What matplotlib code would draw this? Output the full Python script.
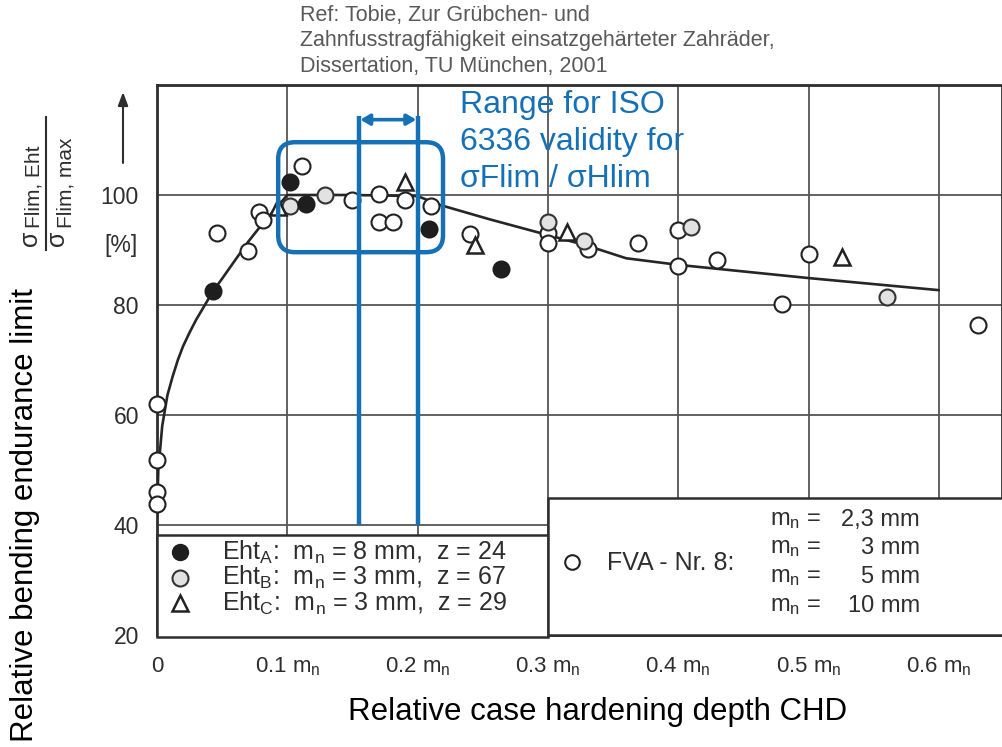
import matplotlib
matplotlib.use('Agg')
import matplotlib.pyplot as plt
from matplotlib.patches import Rectangle, FancyBboxPatch
from matplotlib.lines import Line2D

plt.rcParams['font.family'] = ['Liberation Sans', 'DejaVu Sans']
plt.rcParams['mathtext.fontset'] = 'custom'
plt.rcParams['mathtext.rm'] = 'Liberation Sans'
plt.rcParams['mathtext.it'] = 'Liberation Sans:italic'
plt.rcParams['mathtext.bf'] = 'Liberation Sans:bold'

# ---------------- data ----------------
# Eht_A : filled black circles
eht_a_x = [0.043, 0.102, 0.114, 0.209, 0.264]
eht_a_y = [82.6, 102.3, 98.4, 93.8, 86.5]
# Eht_B : grey filled circles
eht_b_x = [0.102, 0.129, 0.300, 0.328, 0.410, 0.560]
eht_b_y = [98.0, 100.0, 95.1, 91.6, 94.2, 81.5]
# Eht_C : triangles
eht_c_x = [0.093, 0.190, 0.244, 0.315, 0.526]
eht_c_y = [97.8, 102.4, 90.9, 93.3, 88.7]
# FVA-Nr. 8 : open circles
fva_x = [0.0, 0.0, 0.0, 0.0, 0.046, 0.070, 0.078, 0.081, 0.111, 0.150, 0.170,
         0.190, 0.170, 0.181, 0.210, 0.240, 0.300, 0.300, 0.331, 0.369, 0.400,
         0.400, 0.430, 0.480, 0.500, 0.630]
fva_y = [62.0, 51.8, 46.0, 43.8, 93.1, 89.8, 96.9, 95.5, 105.3, 99.1, 100.2,
         99.1, 95.1, 95.1, 98.0, 93.0, 93.1, 91.3, 90.2, 91.3, 93.6,
         87.1, 88.2, 80.2, 89.3, 76.4]
# fitted curve
curve_x = [0.0, 0.001, 0.004, 0.008, 0.012, 0.016, 0.020, 0.025, 0.030, 0.038,
           0.043, 0.050, 0.061, 0.070, 0.079, 0.092, 0.100, 0.150, 0.200, 0.217,
           0.255, 0.294, 0.330, 0.360, 0.400, 0.500, 0.600]
curve_y = [41.5, 50.0, 58.0, 63.6, 67.0, 70.0, 72.5, 75.0, 77.3, 80.5,
           82.5, 84.8, 88.5, 91.5, 94.2, 97.8, 100.0, 100.0, 99.8, 98.2,
           95.6, 93.1, 90.8, 88.5, 87.3, 84.9, 82.7]
# ISO 6336 validity range
iso_range = [0.155, 0.200]

x_ticks = [0.0, 0.1, 0.2, 0.3, 0.4, 0.5, 0.6]
x_tick_labels = ['0', '0.1 m$_\\mathrm{n}$', '0.2 m$_\\mathrm{n}$', '0.3 m$_\\mathrm{n}$',
                 '0.4 m$_\\mathrm{n}$', '0.5 m$_\\mathrm{n}$', '0.6 m$_\\mathrm{n}$']
y_ticks = [20, 40, 60, 80, 100, 120]
y_tick_labels = ['20', '40', '60', '80', '100', '']

# ---------------- figure ----------------
W, H = 1002, 747
fig = plt.figure(figsize=(W / 100, H / 100), dpi=100)
X0, XR, YT, YB = 157, 1002, 85, 635
ax = fig.add_axes([X0 / W, 1 - YB / H, (XR - X0) / W, (YB - YT) / H])
PX_PER_X = 1303.0
PX_PER_Y = 5.5
ax.set_xlim(0, (XR - X0) / PX_PER_X)
ax.set_ylim(20, 120)

def fx(px):
    return px / W

def fy(py):
    return 1 - py / H

INK = '#2e2e2e'
BLUE = '#1670b6'
FS_SCAN = 18

ax.set_xticks(x_ticks)
ax.set_xticklabels(x_tick_labels, fontsize=16, color=INK)
ax.set_yticks(y_ticks)
ax.set_yticklabels(y_tick_labels, fontsize=16.5, color=INK)
ax.tick_params(length=0, pad=13)
ax.tick_params(axis='x', pad=15)
ax.grid(True, color='#555555', lw=1.3, zorder=1)
ax.set_axisbelow(True)
for s in ax.spines.values():
    s.set_color(INK)
    s.set_linewidth(2)

# curve
ax.plot(curve_x, curve_y, color='#262626', lw=1.9, zorder=3, solid_capstyle='round',
        solid_joinstyle='round')

ms = 11.5
mew = 1.5
ax.plot(fva_x, fva_y, 'o', ms=ms, mfc='white', mec='#222222', mew=mew, ls='none',
        zorder=4, clip_on=False)
ax.plot(eht_b_x, eht_b_y, 'o', ms=ms, mfc='#e2e2e2', mec='#333333', mew=mew, ls='none',
        zorder=4, clip_on=False)
ax.plot(eht_c_x, eht_c_y, '^', ms=12, mfc='white', mec='#222222', mew=mew + 0.3, ls='none',
        zorder=4, clip_on=False)
ax.plot(eht_a_x, eht_a_y, 'o', ms=ms, mfc='#1e1e1e', mec='#1e1e1e', mew=mew, ls='none',
        zorder=4, clip_on=False)

# legend boxes
ax.add_patch(Rectangle((0.0, 19.6), 0.3, 38.2 - 19.6, fc='white', ec=INK, lw=1.8,
                       zorder=6, clip_on=False))
ax.add_patch(Rectangle((0.3, 20.0), 0.66, 44.9 - 20.0, fc='white', ec=INK, lw=1.8,
                       zorder=6, clip_on=False))

leg_rows = [35.1, 30.4, 25.8]
mx = 0.0177
ax.plot([mx], [leg_rows[0]], 'o', ms=ms, mfc='#1e1e1e', mec='#1e1e1e', zorder=7)
ax.plot([mx], [leg_rows[1]], 'o', ms=ms, mfc='#e2e2e2', mec='#333333', mew=mew, zorder=7)
ax.plot([mx], [leg_rows[2]], '^', ms=12, mfc='white', mec='#222222', mew=mew + 0.3, zorder=7)
leg_txt = ['Eht$_\\mathrm{A}$:  m$_\\mathrm{n}$ = 8 mm,  z = 24',
           'Eht$_\\mathrm{B}$:  m$_\\mathrm{n}$ = 3 mm,  z = 67',
           'Eht$_\\mathrm{C}$:  m$_\\mathrm{n}$ = 3 mm,  z = 29']
for yy, t in zip(leg_rows, leg_txt):
    ax.text(0.05, yy, t, fontsize=FS_SCAN, color=INK, va='center', ha='left', zorder=7)

ax.plot([0.3185], [33.3], 'o', ms=10.5, mfc='white', mec='#222222', mew=mew, zorder=7, clip_on=False)
ax.text(0.345, 33.0, 'FVA - Nr. 8:', fontsize=FS_SCAN, color=INK, va='center', ha='left', zorder=7)
fva_rows = [40.9, 35.8, 30.5, 25.3]
fva_mods = ['2,3 mm', '3 mm', '5 mm', '10 mm']
for yy, t in zip(fva_rows, fva_mods):
    ax.text(0.4705, yy, 'm$_\\mathrm{n}$ =', fontsize=17, color=INK, va='center', ha='left', zorder=7)
    ax.text(0.5855, yy, t, fontsize=17, color=INK, va='center', ha='right', zorder=7)

# ISO validity annotation (blue)
ax.add_patch(FancyBboxPatch((0.093, 89.6), 0.1265, 20.0,
                            boxstyle='round,pad=0,rounding_size=0.013',
                            mutation_aspect=PX_PER_X / PX_PER_Y,
                            fill=False, ec=BLUE, lw=3.2, zorder=8))
for xv in iso_range:
    ax.plot([xv, xv], [40, 114.4], color=BLUE, lw=3.2, zorder=8, solid_capstyle='butt')
ax.annotate('', xy=(iso_range[1] - 0.001, 113.7), xytext=(iso_range[0] + 0.001, 113.7),
            arrowprops=dict(arrowstyle='<|-|>,head_length=0.55,head_width=0.32',
                            color=BLUE, lw=2.6, shrinkA=0, shrinkB=0), zorder=9)
fig.text(fx(460), fy(90), 'Range for ISO\n6336 validity for\n\u03c3Flim / \u03c3Hlim',
         fontsize=23, color=BLUE, ha='left', va='top', linespacing=1.3)

# reference text
fig.text(fx(300), fy(5), 'Ref: Tobie, Zur Grübchen- und\n'
         'Zahnfusstragfähigkeit einsatzgehärteter Zahräder,\n'
         'Dissertation, TU München, 2001',
         fontsize=15.5, color='#595959', ha='left', va='top', linespacing=1.27)

# y axis annotation: fraction, arrow, [%]
fig.text(fx(121), fy(245), '[%]', fontsize=16.5, color=INK, ha='center', va='center')
ax.annotate('', xy=(fx(123), fy(92)), xytext=(fx(123), fy(163)),
            xycoords='figure fraction', textcoords='figure fraction',
            arrowprops=dict(arrowstyle='-|>,head_length=0.8,head_width=0.3',
                            color=INK, lw=1.5, shrinkA=0, shrinkB=0))
fig.add_artist(Line2D([fx(46), fx(46)], [fy(117), fy(250)], color=INK, lw=1.5))
fig.text(fx(42), fy(238), '\u03c3', fontsize=18, color=INK, rotation=90, ha='right', va='center')
fig.text(fx(44), fy(228), 'Flim, Eht', fontsize=15, color=INK, rotation=90, ha='right', va='bottom')
fig.text(fx(69), fy(238), '\u03c3', fontsize=18, color=INK, rotation=90, ha='right', va='center')
fig.text(fx(75), fy(228), 'Flim, max', fontsize=15, color=INK, rotation=90, ha='right', va='bottom')

# big axis labels
fig.text(fx(25), fy(515), 'Relative bending endurance limit', fontsize=22.5,
         color='black', rotation=90, ha='center', va='center')
fig.text(fx(598), fy(712), 'Relative case hardening depth CHD', fontsize=22.5,
         color='black', ha='center', va='center')

fig.savefig('out.png', dpi=100)
